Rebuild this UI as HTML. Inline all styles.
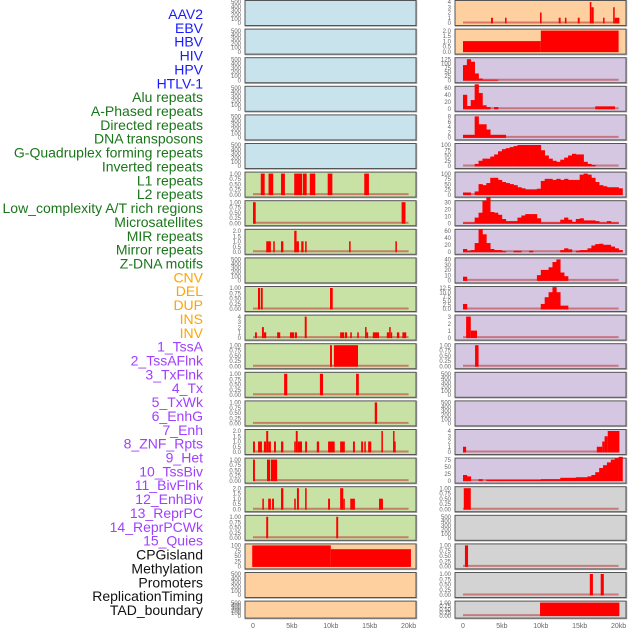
<!DOCTYPE html>
<html><head><meta charset="utf-8">
<style>
html,body{margin:0;padding:0;background:#fff;}
#wrap{position:relative;width:630px;height:630px;overflow:hidden;}
svg{position:absolute;left:0;top:0;}
</style></head>
<body>
<div id="wrap">
<svg id="chart" width="630" height="630" viewBox="0 0 630 630"></svg>
</div>
<script>
const labelNames = ["AAV2","EBV","HBV","HIV","HPV","HTLV-1","Alu repeats","A-Phased repeats","Directed repeats","DNA transposons","G-Quadruplex forming repeats","Inverted repeats","L1 repeats","L2 repeats","Low_complexity A/T rich regions","Microsatellites","MIR repeats","Mirror repeats","Z-DNA motifs","CNV","DEL","DUP","INS","INV","1_TssA","2_TssAFlnk","3_TxFlnk","4_Tx","5_TxWk","6_EnhG","7_Enh","8_ZNF_Rpts","9_Het","10_TssBiv","11_BivFlnk","12_EnhBiv","13_ReprPC","14_ReprPCWk","15_Quies","CPGisland","Methylation","Promoters","ReplicationTiming","TAD_boundary"];
const labelGroups = [0,0,0,0,0,0,1,1,1,1,1,1,1,1,1,1,1,1,1,2,2,2,2,2,3,3,3,3,3,3,3,3,3,3,3,3,3,3,3,4,4,4,4,4];
const xTickLabels = ["0","5kb","10kb","15kb","20kb"];
const xTickValues = [0,5,10,15,20];

const T500=[0,100,200,300,400,500], T1=[0,0.25,0.5,0.75,1.0], T2=[0,0.5,1.0,1.5,2.0], T4=[0,1,2,3,4], T100=[0,25,50,75,100];
const tickFmt = {T1:2,T2:1};

// Left column panels
const leftColors = ["b","b","b","b","b","b","g","g","g","g","g","g","g","g","g","g","g","g","g","o","o","o"];
const leftTicks = [T500,T500,T500,T500,T500,T500,T1,T1,T2,T500,T1,T4,T1,T1,T1,T2,T1,T2,T1,T100,T500,T500];
const leftBars = [
 [],[],[],[],[],[],
 [[1.0,1.5,1],[2.0,2.6,1],[3.6,4.1,1],[5.3,6.3,1],[6.4,6.9,1],[7.3,8.0,1],[9.6,10.2,1],[14.3,14.9,1]],
 [[0,0.35,1],[19.1,19.6,1]],
 [[1.7,2.3,1],[2.6,2.8,1],[3.6,3.9,1],[5.3,5.6,2],[5.6,5.9,1],[6.2,6.5,1],[6.7,6.9,1],[12.35,12.55,1],[18.3,18.5,1]],
 [],
 [[0.64,0.9,1],[1.0,1.25,1],[9.9,10.25,1]],
 [[0.26,0.5,1],[1.15,1.4,2],[1.4,1.7,1],[3.1,3.5,1],[4.75,5.3,1],[5.4,5.65,1],[6.65,6.9,4],[11.2,11.7,1],[11.8,12.1,1],[12.5,12.7,1],[13.4,13.6,1],[14.4,14.6,2],[14.6,14.8,1],[15.4,16.2,1],[17.2,17.5,1],[17.5,17.7,2],[17.7,17.8,1],[18.5,18.8,1],[19.2,19.7,1]],
 [[9.9,10.15,1],[10.4,13.5,1]],
 [[4.0,4.4,1],[8.6,9.0,1],[13.25,13.6,1]],
 [[15.65,15.95,1]],
 [[0,0.25,1],[0.65,1.15,1],[1.4,1.7,1],[1.7,1.95,2],[1.95,2.3,1],[2.7,2.95,1],[3.6,3.9,1],[5.3,5.5,1],[5.5,5.75,2],[5.75,6.3,1],[6.7,6.95,1],[8.2,8.5,1],[9.65,10.5,1],[11.2,11.8,1],[12.85,13.1,1],[13.9,14.15,1],[14.3,14.5,1],[14.8,15.2,1],[16.5,16.7,2],[18.0,18.15,2],[18.15,18.3,1]],
 [[0,0.25,1],[1.8,2.2,1],[2.3,3.1,1]],
 [[1.2,1.4,1],[1.95,2.3,1],[2.45,2.7,1],[3.6,3.9,2],[5.3,5.5,1],[5.65,5.9,2],[6.7,6.9,2],[9.65,9.9,1],[11.2,11.6,2],[11.6,11.8,1],[12.5,13.1,1],[16.2,16.7,1]],
 [[1.7,1.95,1],[10.7,10.95,1]],
 [[-0.1,10,100],[10,20.3,82]],
 [],[]
];
const leftProfiles = [null,null,null,null,null,null,null,null,null,null,null,null,null,null,null,null,null,null,null,null,null,null];

// Right column panels
const rightColors = ["o","o","p","p","p","p","p","p","p","p","p","p","p","p","p","p","p","y","y","y","y","y"];
const rightTicks = [T4,T2,[0,25,50,75,100,125],[0,20,40,60],[0,2,4,6,8],T100,T100,[0,10,20,30],[0,20,40,60],[0,10,20,30,40],[0,2.5,5,7.5,10,12.5],[0,1,2,3],T1,T500,T500,T4,[0,25,50,75],T1,T500,T1,T1,T1];
const rightBars = [
 [[3.6,3.85,1],[5.4,5.6,1],[9.9,10.1,2],[12.3,12.55,1],[13.1,13.3,1],[14.75,15.0,1],[16.3,16.5,4],[16.5,16.8,3],[18.0,18.2,1],[19.3,19.5,3],[19.5,20.1,1]],
 [[0,10,1],[10,20,2]],
 [],[],[],[],[],[],[],[],[],
 [[0.4,1.0,3],[1.0,1.8,1]],
 [[1.55,2.0,1]],
 [],[],
 [[0,0.4,1],[17.2,17.9,1],[17.9,18.2,2],[18.2,18.6,3],[18.6,20.1,4]],
 [],
 [[0.1,1.0,1]],
 [],
 [[0.25,0.65,1]],
 [[16.3,16.7,1],[17.7,18.1,1]],
 [[9.9,20.1,1]]
];
const rightProfiles = [
 null,null,
 [90,125,110,40,10,3,3,3,3],
 [40,8,25,70,45,10,5,0,5,0,0,0,0,0,0,0,0,0,0,0,0,0,0,0,0,0,0,0,0,0,0,0,0,0,7,7,7,7,7],
 [1,1,1,8,5,5,3,1,1,1,1],
 [0,0,0,10,25,35,35,45,55,70,80,85,90,95,100,100,100,100,100,100,75,50,35,25,20,30,40,50,58,55,55,20,10,5],
 [10,10,0,15,50,45,55,80,80,70,60,55,50,45,35,30,25,25,25,28,65,75,75,70,75,70,75,70,70,70,95,100,95,80,60,45,40,35,35,35,30],
 [1,1,1,8,15,32,37,16,15,12,6,3,3,3,8,11,13,13,13,7,1,1,1,1,1,5,8,5,2,6,7,4,4,4,3,1,1,3,1,1],
 [8,3,5,25,65,50,25,8,5,5,2,0,0,3,3,0,0,3,0,0,0,0,0,0,0,5,10,7,0,3,5,5,10,18,22,23,20,20,15,10,5],
 [7,0,0,0,0,0,0,0,0,0,0,0,0,0,0,0,0,0,0,10,20,20,25,35,40,15,8],
 [3,0,0,0,0,0,0,0,0,0,0,0,0,0,0,0,0,0,0,0,3,7,10,13,10,2,2],
 null,null,null,null,null,
 [20,15,0,0,5,0,3,3,3,3,3,3,3,3,3,3,3,3,3,3,5,5,5,5,5,10,10,10,10,12,12,12,15,20,30,45,55,65,75,80,85],
 null,null,null,null,null
];

const svg = document.getElementById('chart');
const NS = 'http://www.w3.org/2000/svg';
const fills = {b:'#c8e3ec', g:'#c8e1a5', o:'#fecf9f', p:'#d5c6e2', y:'#d3d3d3'};
const labelColors = ['#1a1aff','#1a761a','#ffa500','#a040ff','#111111'];
const PITCH = 28.6, KB = 7.78;

function mk(tag, attrs) {
  const e = document.createElementNS(NS, tag);
  for (const k in attrs) e.setAttribute(k, attrs[k]);
  svg.appendChild(e);
  return e;
}
function fmt(v, ticks) {
  if (ticks === T1) return v.toFixed(2);
  if (ticks === T2) return v.toFixed(1);
  if (ticks.some(t => t % 1 !== 0)) return v.toFixed(1);
  return String(v);
}

// Labels
labelNames.forEach((name, i) => {
  const t = mk('text', {x: 203, y: 19 + i * 13.86, 'text-anchor': 'end', 'font-size': '14', 'font-family': 'Liberation Sans, sans-serif', fill: labelColors[labelGroups[i]]});
  t.textContent = name;
  
  
});

function drawColumn(col, colors, ticksArr, barsArr, profArr, frameX, zeroX) {
  colors.forEach((c, i) => {
    const top = i * PITCH + 0.5;
    const h = i === 21 ? 17 : 25;
    const yB = top + h - 2.5, yT = top + 1.5;
    const ticks = ticksArr[i];
    const ymax = ticks[ticks.length - 1];
    const ys = v => yB - (v / ymax) * (yB - yT);
    const xs = kb => zeroX + kb * KB;
    const g = document.createElementNS(NS, 'g');
    svg.appendChild(g);
    
    
    const shadow = document.createElementNS(NS, 'rect');
    shadow.setAttribute('x', frameX + 0.5); shadow.setAttribute('y', top + 0.5);
    shadow.setAttribute('width', 171); shadow.setAttribute('height', h);
    shadow.setAttribute('fill', 'none'); shadow.setAttribute('stroke', '#aaa'); shadow.setAttribute('stroke-width', '1.5');
    g.appendChild(shadow);
    const r = document.createElementNS(NS, 'rect');
    r.setAttribute('x', frameX); r.setAttribute('y', top);
    r.setAttribute('width', 171); r.setAttribute('height', h);
    r.setAttribute('fill', fills[c]); r.setAttribute('stroke', '#555'); r.setAttribute('stroke-width', '1');
    
    
    g.appendChild(r);
    // y ticks
    ticks.forEach(tv => {
      const t = document.createElementNS(NS, 'text');
      t.setAttribute('x', frameX - 4); t.setAttribute('y', ys(tv) + 2.2);
      t.setAttribute('text-anchor', 'end'); t.setAttribute('font-size', '6');
      t.setAttribute('font-family', 'Liberation Sans, sans-serif'); t.setAttribute('fill', '#666');
      t.textContent = fmt(tv, ticks);
      
      
      g.appendChild(t);
    });
    const bars = barsArr[i] || [];
    const prof = profArr[i];
    const hasData = bars.length > 0 || prof;
    if (hasData) {
      const bl = document.createElementNS(NS, 'line');
      bl.setAttribute('x1', xs(0)); bl.setAttribute('x2', xs(20));
      bl.setAttribute('y1', yB - 0.5); bl.setAttribute('y2', yB - 0.5);
      bl.setAttribute('stroke', '#c04040'); bl.setAttribute('stroke-width', '2'); bl.setAttribute('opacity', '0.6');
      
      
      g.appendChild(bl);
    }
    bars.forEach(b => {
      const rr = document.createElementNS(NS, 'rect');
      const x1 = xs(b[0]), x2 = xs(b[1]);
      rr.setAttribute('x', x1); rr.setAttribute('width', Math.max(1.5, x2 - x1));
      rr.setAttribute('y', ys(b[2])); rr.setAttribute('height', yB - ys(b[2]) + 0.5);
      rr.setAttribute('fill', '#ff0000');
      
      
      g.appendChild(rr);
    });
    if (prof) {
      prof.forEach((v, k) => {
        if (v <= 0) return;
        const rr = document.createElementNS(NS, 'rect');
        const x1 = xs(k * 0.5), x2 = xs(k * 0.5 + 0.5);
        rr.setAttribute('x', x1); rr.setAttribute('width', x2 - x1 + 0.3);
        rr.setAttribute('y', ys(v)); rr.setAttribute('height', yB - ys(v) + 0.5);
        rr.setAttribute('fill', '#ff0000');
        
        
        g.appendChild(rr);
      });
    }
  });
  // x axis labels
  xTickValues.forEach((v, k) => {
    const t = mk('text', {x: zeroX + v * KB, y: 628, 'text-anchor': 'middle', 'font-size': '7', 'font-family': 'Liberation Sans, sans-serif', fill: '#666'});
    t.textContent = xTickLabels[k];
    
    
  });
}
drawColumn('left', leftColors, leftTicks, leftBars, leftProfiles, 245, 253);
drawColumn('right', rightColors, rightTicks, rightBars, rightProfiles, 455, 463);
</script>
</body></html>
